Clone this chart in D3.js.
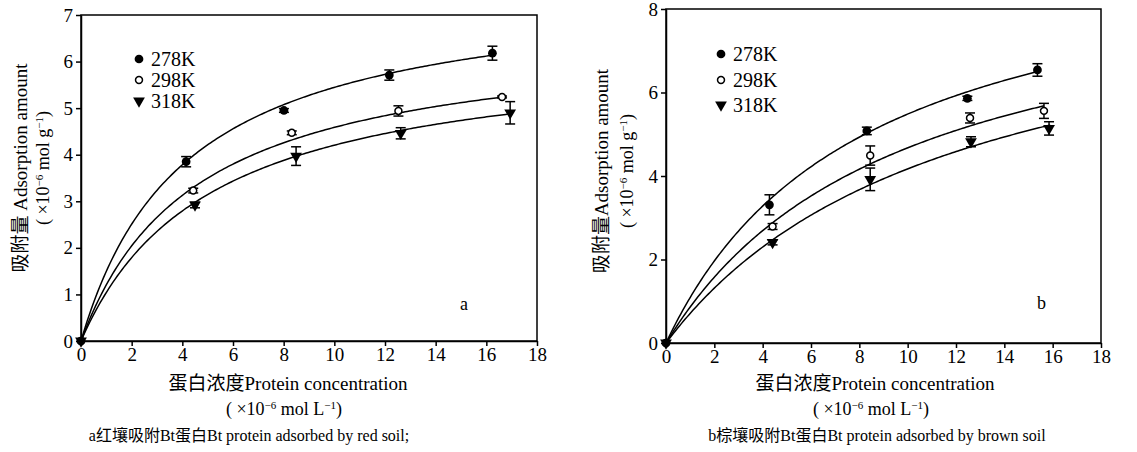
<!DOCTYPE html>
<html>
<head>
<meta charset="utf-8" />
<script src="https://d3js.org/d3.v7.min.js"></script>
<title>Bt protein adsorption</title>
<style>
body { margin: 0; background: #fff; }
text { font-family: "Liberation Serif", "DejaVu Serif", "Noto Sans CJK SC", serif; fill: #000; }
</style>
</head>
<body>
<script>
// series labels
var seriesNames = ["278K", "298K", "318K"];
var xTicks = [0, 2, 4, 6, 8, 10, 12, 14, 16, 18];

// panel a - red soil
var aX278 = [0, 4.15, 8.01, 12.17, 16.24], aY278 = [0, 3.85, 4.95, 5.71, 6.18], aE278 = [0, 0.11, 0.04, 0.11, 0.15];
var aX298 = [0, 4.43, 8.32, 12.53, 16.62], aY298 = [0, 3.23, 4.47, 4.94, 5.24], aE298 = [0, 0.05, 0.04, 0.11, 0.02];
var aX318 = [0, 4.50, 8.49, 12.62, 16.94], aY318 = [0, 2.92, 3.97, 4.46, 4.90], aE318 = [0, 0.06, 0.20, 0.12, 0.24];
// Langmuir fit params [Qm, 1/K, end x]
var aFit = [[7.70, 4.14, 16.24], [6.66, 4.52, 16.62], [6.34, 5.08, 16.94]];

// panel b - brown soil
var bX278 = [0, 4.28, 8.31, 12.47, 15.37], bY278 = [0, 3.31, 5.08, 5.86, 6.54], bE278 = [0, 0.24, 0.09, 0.05, 0.15];
var bX298 = [0, 4.41, 8.45, 12.58, 15.64], bY298 = [0, 2.79, 4.49, 5.39, 5.56], bE298 = [0, 0.07, 0.23, 0.12, 0.18];
var bX318 = [0, 4.41, 8.45, 12.62, 15.85], bY318 = [0, 2.41, 3.92, 4.82, 5.14], bE318 = [0, 0.06, 0.27, 0.12, 0.16];
var bFit = [[9.93, 8.11, 15.37], [9.19, 9.66, 15.64], [9.12, 11.87, 15.90]];

var svg = d3.select("body").append("svg")
    .attr("width", 1137)
    .attr("height", 452);

function pack(xs, ys, es) {
  return xs.map(function(x, i) { return {x: x, y: ys[i], e: es[i]}; });
}

function drawPanel(p) {
  var x = d3.scaleLinear().domain([0, 18]).range([p.left, p.right]);
  var y = d3.scaleLinear().domain([0, p.ymax]).range([p.bottom, p.top]);
  var g = svg.append("g");

  // frame
  g.append("rect")
    .attr("x", p.left).attr("y", p.top)
    .attr("width", p.right - p.left).attr("height", p.bottom - p.top)
    .attr("fill", "none").attr("stroke", "#000").attr("stroke-width", 1.5);

  var ax = g.append("g")
    .attr("transform", "translate(0," + p.bottom + ")")
    .call(d3.axisBottom(x).tickValues(xTicks).tickFormat(d3.format("d")).tickSize(5).tickSizeOuter(0).tickPadding(2));
  var ay = g.append("g")
    .attr("transform", "translate(" + p.left + ",0)")
    .call(d3.axisLeft(y).tickValues(p.yTicks).tickFormat(d3.format("d")).tickSize(5).tickSizeOuter(0).tickPadding(3));
  [ax, ay].forEach(function(a) {
    a.attr("font-family", null).attr("font-size", null);
    a.select(".domain").attr("stroke-width", 1.5);
    a.selectAll(".tick line").attr("stroke-width", 1.5);
    a.selectAll("text").attr("font-size", 19);
  });

  // fitted curves
  var line = d3.line().x(function(d) { return x(d[0]); }).y(function(d) { return y(d[1]); });
  p.fit.forEach(function(f) {
    var pts = d3.range(0, 201).map(function(i) {
      var c = f[2] * i / 200;
      return [c, f[0] * c / (f[1] + c)];
    });
    g.append("path").attr("d", line(pts))
      .attr("fill", "none").attr("stroke", "#000").attr("stroke-width", 1.5);
  });

  // error bars and markers
  p.series.forEach(function(s, si) {
    var d = pack(s[0], s[1], s[2]);
    var eb = g.append("g").selectAll("g").data(d.filter(function(v) { return v.e > 0; })).enter().append("g");
    eb.append("line")
      .attr("x1", function(v) { return x(v.x); }).attr("x2", function(v) { return x(v.x); })
      .attr("y1", function(v) { return y(v.y - v.e); }).attr("y2", function(v) { return y(v.y + v.e); })
      .attr("stroke", "#000").attr("stroke-width", 1.5);
    [-1, 1].forEach(function(sg) {
      eb.append("line")
        .attr("x1", function(v) { return x(v.x) - 5; }).attr("x2", function(v) { return x(v.x) + 5; })
        .attr("y1", function(v) { return y(v.y + sg * v.e); }).attr("y2", function(v) { return y(v.y + sg * v.e); })
        .attr("stroke", "#000").attr("stroke-width", 1.5);
    });
    g.append("g").selectAll("path").data(d).enter().append("path")
      .attr("transform", function(v) { return "translate(" + x(v.x) + "," + y(v.y) + ")"; })
      .call(styleMarker, si);
  });

  // legend
  seriesNames.forEach(function(n, i) {
    g.append("path")
      .attr("transform", "translate(" + p.legX + "," + (p.legY[i]) + ")")
      .call(styleMarker, i);
    g.append("text").attr("x", p.legX + 12).attr("y", p.legY[i] + 7)
      .attr("font-size", 20).text(n);
  });

  g.append("text").attr("x", p.tagX).attr("y", p.tagY).attr("font-size", 18).text(p.tag);

  // axis titles
  g.append("text").attr("x", p.xlabX).attr("y", 390).attr("text-anchor", "middle")
    .attr("font-size", 19).text("蛋白浓度Protein concentration");
  var u = g.append("text").attr("x", p.xlabX - 4).attr("y", 415).attr("text-anchor", "middle").attr("font-size", 18);
  u.append("tspan").text("( ×10");
  u.append("tspan").attr("dy", -6).attr("font-size", 11).text("−6");
  u.append("tspan").attr("dy", 6).text(" mol L");
  u.append("tspan").attr("dy", -6).attr("font-size", 11).text("−1");
  u.append("tspan").attr("dy", 6).text(")");
  g.append("text").attr("x", p.capX).attr("y", 441).attr("text-anchor", "middle")
    .attr("font-size", 16).text(p.caption);

  var yl = g.append("g").attr("transform", "translate(" + p.ylabX + "," + p.ylabY + ") rotate(-90)");
  yl.append("text").attr("text-anchor", "middle").attr("font-size", 19).text(p.ylab);
  var u2 = yl.append("text").attr("text-anchor", "middle").attr("y", p.ylabGap).attr("font-size", 18);
  u2.append("tspan").text("( ×10");
  u2.append("tspan").attr("dy", -6).attr("font-size", 11).text("−6");
  u2.append("tspan").attr("dy", 6).text(" mol g");
  u2.append("tspan").attr("dy", -6).attr("font-size", 11).text("−1");
  u2.append("tspan").attr("dy", 6).text(")");
}

function styleMarker(sel, i) {
  if (i === 0) {
    sel.attr("d", d3.symbol().type(d3.symbolCircle).size(60)).attr("fill", "#000");
  } else if (i === 1) {
    sel.attr("d", d3.symbol().type(d3.symbolCircle).size(38)).attr("fill", "#fff")
      .attr("stroke", "#000").attr("stroke-width", 1.5);
  } else {
    sel.attr("d", d3.symbol().type(d3.symbolTriangle).size(60)).attr("fill", "#000")
      .attr("transform", function() { return d3.select(this).attr("transform") + " rotate(180)"; });
  }
}

drawPanel({
  left: 81, right: 537, top: 15, bottom: 341, ymax: 7, yTicks: [0, 1, 2, 3, 4, 5, 6, 7],
  series: [[aX278, aY278, aE278], [aX298, aY298, aE298], [aX318, aY318, aE318]],
  fit: aFit, legX: 139, legY: [59, 80, 101], tag: "a", tagX: 460, tagY: 310,
  xlabX: 288, capX: 249, caption: "a红壤吸附Bt蛋白Bt protein adsorbed by red soil;",
  ylab: "吸附量 Adsorption amount", ylabX: 27, ylabY: 168, ylabGap: 22
});

drawPanel({
  left: 666, right: 1101, top: 9, bottom: 343, ymax: 8, yTicks: [0, 2, 4, 6, 8],
  series: [[bX278, bY278, bE278], [bX298, bY298, bE298], [bX318, bY318, bE318]],
  fit: bFit, legX: 721, legY: [54, 80, 105], tag: "b", tagX: 1037, tagY: 309,
  xlabX: 875, capX: 877, caption: "b棕壤吸附Bt蛋白Bt protein adsorbed by brown soil",
  ylab: "吸附量Adsorption amount", ylabX: 608, ylabY: 171, ylabGap: 25
});
</script>
</body>
</html>
